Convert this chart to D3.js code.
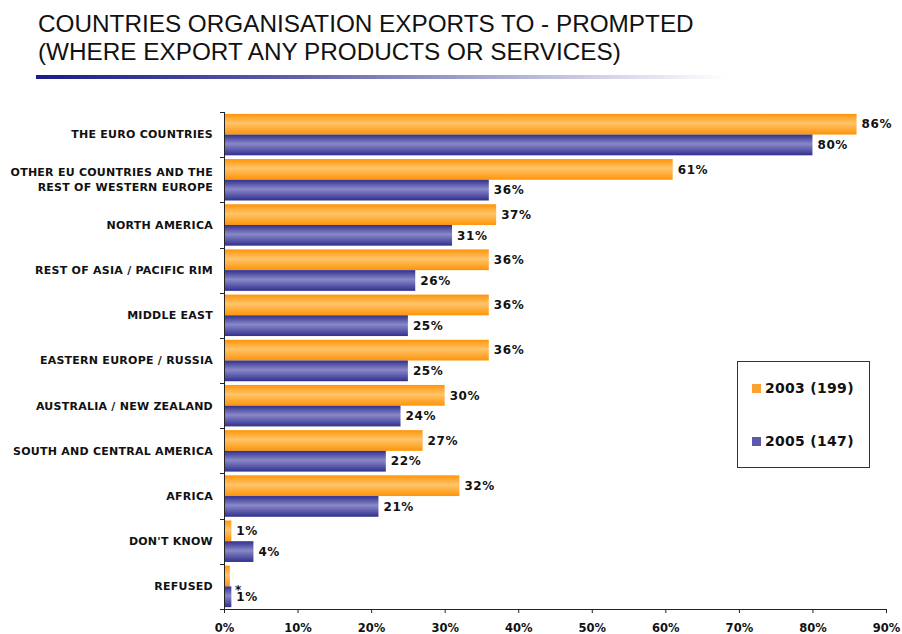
<!DOCTYPE html>
<html>
<head>
<meta charset="utf-8">
<script src="https://cdn.jsdelivr.net/npm/d3@7"></script>
<style>
  html, body { margin: 0; padding: 0; background: #fff; }
  svg { display: block; }
</style>
</head>
<body>
<svg id="chart" width="902" height="634"></svg>
<script>
// Export destinations, share of organisations (%)
const categories = [
  ["THE EURO COUNTRIES"],
  ["OTHER EU COUNTRIES AND THE", "REST OF WESTERN EUROPE"],
  ["NORTH AMERICA"],
  ["REST OF ASIA / PACIFIC RIM"],
  ["MIDDLE EAST"],
  ["EASTERN EUROPE / RUSSIA"],
  ["AUSTRALIA / NEW ZEALAND"],
  ["SOUTH AND CENTRAL AMERICA"],
  ["AFRICA"],
  ["DON'T KNOW"],
  ["REFUSED"]
];
const seriesNames = ["2003 (199)", "2005 (147)"];
const values2003 = [86, 61, 37, 36, 36, 36, 30, 27, 32, 1, 0.8];
const labels2003 = ["86%", "61%", "37%", "36%", "36%", "36%", "30%", "27%", "32%", "1%", "*"];
const values2005 = [80, 36, 31, 26, 25, 25, 24, 22, 21, 4, 1];
const labels2005 = ["80%", "36%", "31%", "26%", "25%", "25%", "24%", "22%", "21%", "4%", "1%"];
const tickValues = [0, 10, 20, 30, 40, 50, 60, 70, 80, 90];

const svg = d3.select("#chart");
const defs = svg.append("defs");

// Title
const title = svg.append("text")
  .attr("font-family", "'Liberation Sans', Arial, sans-serif")
  .attr("font-size", 24.3)
  .attr("fill", "#111");
title.append("tspan").attr("x", 38).attr("y", 32).text("COUNTRIES ORGANISATION EXPORTS TO - PROMPTED");
title.append("tspan").attr("x", 38).attr("y", 60).text("(WHERE EXPORT ANY PRODUCTS OR SERVICES)");

// Fading rule under the title
const ruleGrad = defs.append("linearGradient").attr("id", "ruleGrad")
  .attr("x1", "0%").attr("x2", "100%").attr("y1", "0%").attr("y2", "0%");
ruleGrad.append("stop").attr("offset", "0%").attr("stop-color", "#1a1a8a");
ruleGrad.append("stop").attr("offset", "35%").attr("stop-color", "#5a5aa8");
ruleGrad.append("stop").attr("offset", "100%").attr("stop-color", "#ffffff");
svg.append("rect").attr("x", 36).attr("y", 75).attr("width", 690).attr("height", 4)
  .attr("fill", "url(#ruleGrad)");

// Bar gradients (cylinder shading)
function barGradient(id, edge, mid) {
  const g = defs.append("linearGradient").attr("id", id)
    .attr("x1", "0%").attr("x2", "0%").attr("y1", "0%").attr("y2", "100%");
  g.append("stop").attr("offset", "0%").attr("stop-color", edge);
  g.append("stop").attr("offset", "45%").attr("stop-color", mid);
  g.append("stop").attr("offset", "100%").attr("stop-color", edge);
}
barGradient("grad2003", "#ff9408", "#ffc46a");
barGradient("grad2005", "#30308e", "#8a88c8");
const fills = ["url(#grad2003)", "url(#grad2005)"];
const swatch = ["#ffa030", "#5c5aa8"];

const margin = { left: 224, right: 886, top: 112, bottom: 609 };

const x = d3.scaleLinear().domain([0, 90]).range([margin.left, margin.right]);
const y = d3.scaleBand().domain(d3.range(categories.length))
  .range([margin.top, margin.bottom]).paddingInner(0).paddingOuter(0);
const ySub = d3.scaleBand().domain([0, 1]).range([0, y.bandwidth()])
  .paddingInner(0).paddingOuter(0.09);

const series = [
  { values: values2003, labels: labels2003 },
  { values: values2005, labels: labels2005 }
];

const labelFont = "'DejaVu Sans', Verdana, sans-serif";

// Bars
series.forEach((s, si) => {
  svg.append("g").selectAll("rect")
    .data(s.values)
    .join("rect")
    .attr("x", x(0))
    .attr("y", (d, i) => y(i) + ySub(si))
    .attr("width", d => x(d) - x(0))
    .attr("height", ySub.bandwidth())
    .attr("fill", fills[si]);
});

// Value labels ("*" marks a share below 0.5%)
series.forEach((s, si) => {
  svg.append("g").selectAll("text")
    .data(s.values)
    .join("text")
    .attr("x", d => x(d) + 5)
    .attr("y", (d, i) => y(i) + ySub(si) + ySub.bandwidth() / 2 + (s.labels[i] === "*" ? 14 : 0))
    .attr("dy", "0.35em")
    .attr("font-family", labelFont)
    .attr("font-weight", "bold")
    .attr("font-size", 12)
    .attr("letter-spacing", 0.6)
    .attr("fill", "#111")
    .text((d, i) => s.labels[i]);
});

// Y axis line with category separators
const yAxisG = svg.append("g").attr("stroke", "#222").attr("stroke-width", 1);
yAxisG.append("line")
  .attr("x1", x(0) + 0.5).attr("x2", x(0) + 0.5)
  .attr("y1", margin.top).attr("y2", margin.bottom);
yAxisG.selectAll("line.tick")
  .data(d3.range(categories.length + 1))
  .join("line")
  .attr("class", "tick")
  .attr("x1", x(0) - 4).attr("x2", x(0))
  .attr("y1", i => Math.round(margin.top + i * y.step()) + 0.5)
  .attr("y2", i => Math.round(margin.top + i * y.step()) + 0.5);

// Category labels
const catG = svg.append("g")
  .attr("font-family", labelFont)
  .attr("font-weight", "bold")
  .attr("font-size", 11)
  .attr("letter-spacing", 0.25)
  .attr("fill", "#111")
  .attr("text-anchor", "end");
categories.forEach((lines, i) => {
  const cy = y(i) + y.bandwidth() / 2;
  const t = catG.append("text").attr("x", 213);
  lines.forEach((ln, li) => {
    t.append("tspan")
      .attr("x", 213)
      .attr("y", cy + (li - (lines.length - 1) / 2) * 14.5)
      .attr("dy", "0.35em")
      .text(ln);
  });
});

// X axis
const xAxis = d3.axisBottom(x).tickValues(tickValues)
  .tickFormat(d => d + "%").tickSize(4).tickPadding(11);
const xg = svg.append("g")
  .attr("transform", `translate(0,${margin.bottom})`)
  .call(xAxis);
xg.select(".domain").attr("stroke", "#222");
xg.selectAll(".tick line").attr("stroke", "#222");
xg.selectAll(".tick text")
  .attr("font-family", labelFont)
  .attr("font-weight", "bold")
  .attr("font-size", 11.5)
  .attr("fill", "#111");

// Legend
const lg = svg.append("g");
lg.append("rect").attr("x", 737.5).attr("y", 361.5).attr("width", 132).attr("height", 106)
  .attr("fill", "#fff").attr("stroke", "#333").attr("stroke-width", 1);
seriesNames.forEach((name, i) => {
  const ly = 388 + i * 53;
  lg.append("rect").attr("x", 752).attr("y", ly - 4).attr("width", 9).attr("height", 9)
    .attr("fill", swatch[i]);
  lg.append("text").attr("x", 765).attr("y", ly)
    .attr("dy", "0.38em")
    .attr("font-family", labelFont)
    .attr("font-weight", "bold")
    .attr("font-size", 14)
    .attr("letter-spacing", 0.3)
    .attr("fill", "#111")
    .text(name);
});
</script>
</body>
</html>
